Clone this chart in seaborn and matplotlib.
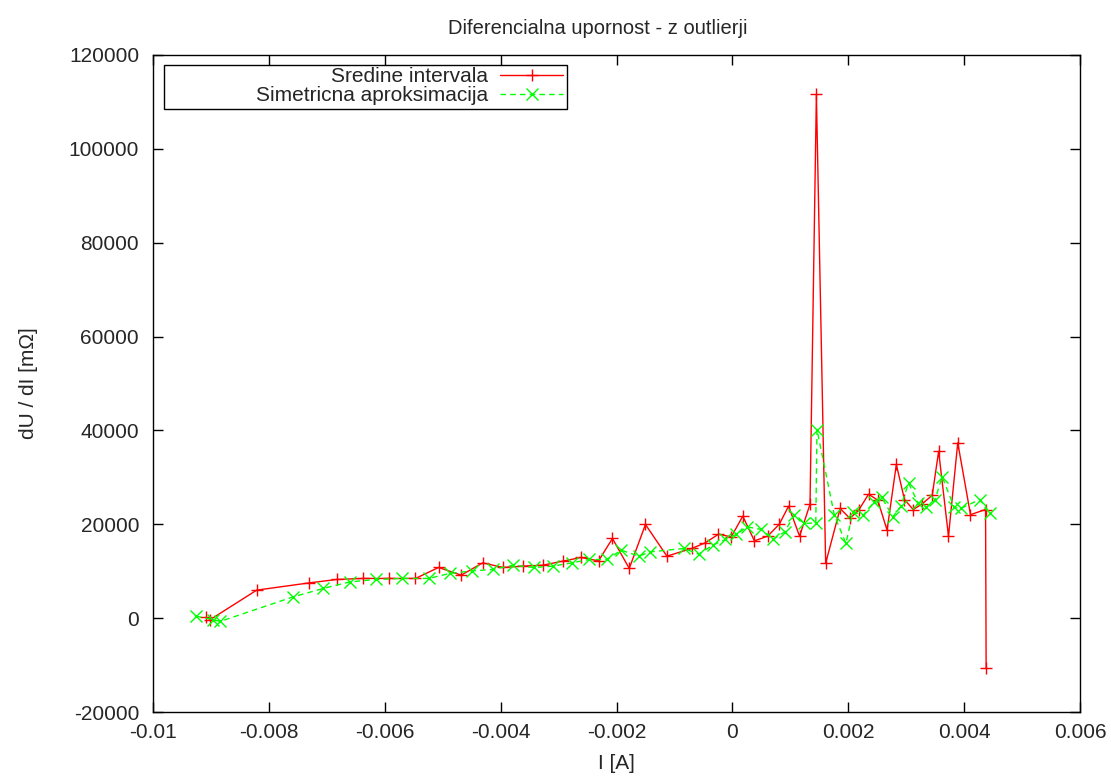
import numpy as np
import pandas as pd
import matplotlib
matplotlib.use("Agg")
import matplotlib.pyplot as plt
from matplotlib.patches import Rectangle
from matplotlib.ticker import FuncFormatter, MultipleLocator
import seaborn as sns

# Sredine intervala (red)
red_x = [-0.00908, -0.00901, -0.00821, -0.00730, -0.00683, -0.00638, -0.00593, -0.00547,
         -0.00507, -0.00468, -0.00431, -0.00396, -0.00362, -0.00327, -0.00293, -0.00261,
         -0.00231, -0.00207, -0.00178, -0.00150, -0.00113, -0.00070, -0.00047, -0.00024,
         -0.00002, 0.00018, 0.00038, 0.00061, 0.00081, 0.00097, 0.00116, 0.00134,
         0.00145, 0.00161, 0.00186, 0.00203, 0.00218, 0.00235, 0.00251, 0.00267,
         0.00283, 0.00297, 0.00312, 0.00327, 0.00345, 0.00356, 0.00373, 0.00389,
         0.00411, 0.00437, 0.00438]
red_y = [200, -300, 5970, 7520, 8240, 8460, 8460, 8460,
         10800, 9160, 11780, 10800, 11080, 11290, 12140, 12930,
         12200, 16980, 10590, 19960, 13210, 14850, 16040, 17890,
         17320, 21730, 16470, 17470, 20020, 23860, 17470, 24280,
         111600, 11700, 23370, 21240, 23000, 26410, 25130, 18740,
         32740, 25280, 23150, 24280, 26200, 35570, 17470, 37380,
         22050, 23150, -10650]

# Simetricna aproksimacija (green)
green_x = [-0.00926, -0.00897, -0.00884, -0.00758, -0.00706, -0.00660, -0.00615, -0.00570,
           -0.00524, -0.00488, -0.00449, -0.00414, -0.00378, -0.00343, -0.00310, -0.00277,
           -0.00247, -0.00216, -0.00192, -0.00161, -0.00142, -0.00083, -0.00058, -0.00034,
           -0.00012, 0.00006, 0.00026, 0.00050, 0.00070, 0.00090, 0.00107, 0.00124,
           0.00144, 0.00146, 0.00176, 0.00196, 0.00208, 0.00226, 0.00245, 0.00258,
           0.00277, 0.00291, 0.00304, 0.00321, 0.00335, 0.00350, 0.00362, 0.00383,
           0.00394, 0.00427, 0.00445]
green_y = [430, -300, -700, 4540, 6330, 7730, 8240, 8460,
           8460, 9520, 10070, 10370, 11290, 10800, 11080, 11780,
           12500, 12500, 14480, 13210, 14120, 14850, 13630, 15550,
           16760, 17830, 19450, 18890, 16760, 18380, 21940, 20170,
           20300, 40190, 21940, 15910, 22640, 21940, 24770, 25710,
           21580, 23860, 28760, 24430, 23640, 25280, 30140, 23580,
           23370, 25280, 22300]

red_df = pd.DataFrame({"I": red_x, "R": red_y})
green_df = pd.DataFrame({"I": green_x, "R": green_y})

sns.set_style("ticks")
plt.rcParams['font.family'] = ['Liberation Sans', 'DejaVu Sans']
fs = 15

fig = plt.figure(figsize=(11.11, 7.8), dpi=100)
ax = fig.add_axes([153 / 1111, 1 - 712 / 780, 927 / 1111, 657 / 780])

sns.lineplot(data=red_df, x="I", y="R", ax=ax, sort=False, estimator=None,
             color="#ff0000", linewidth=1, marker="+", markersize=9,
             markeredgewidth=1, markeredgecolor="#ff0000", label="Sredine intervala")
sns.lineplot(data=green_df, x="I", y="R", ax=ax, sort=False, estimator=None,
             color="#00ff00", linewidth=1, linestyle=(0, (4, 3)), marker="x", markersize=8,
             markeredgewidth=1, markeredgecolor="#00ff00", label="Simetricna aproksimacija")

ax.set_xlim(-0.01, 0.006)
ax.set_ylim(-20000, 120000)
ax.xaxis.set_major_locator(MultipleLocator(0.002))
ax.yaxis.set_major_locator(MultipleLocator(20000))
ax.xaxis.set_major_formatter(FuncFormatter(lambda v, p: "%g" % round(v, 6)))
ax.yaxis.set_major_formatter(FuncFormatter(lambda v, p: "%g" % round(v)))
ax.tick_params(direction="in", length=7, width=1, top=True, right=True,
               labelsize=fs, color="black")
ax.tick_params(axis="x", pad=8)
ax.tick_params(axis="y", pad=10)
for s in ax.spines.values():
    s.set_visible(True)
    s.set_linewidth(1)
    s.set_color("black")

ax.set_xlabel("I [A]", fontsize=fs)
ax.set_ylabel("dU / dI [mΩ]", fontsize=fs)
ax.xaxis.set_label_coords(0.5, -0.064)
ax.yaxis.set_label_coords(-0.124, 0.5)
ax.set_title("Diferencialna upornost - z outlierji", fontsize=14.5, pad=15, x=0.4795)

# legend in gnuplot style: right-aligned text, sample on the right, boxed
leg = ax.legend(loc="upper right", bbox_to_anchor=(0.4466, 0.9878), frameon=False,
                markerfirst=False, fontsize=15, handlelength=3.0, handletextpad=0.6,
                labelspacing=0.0, borderpad=0.2, borderaxespad=0)
leg.set_zorder(6)
ax.add_patch(Rectangle((0.0119, 0.9178), 0.4347, 0.067, transform=ax.transAxes,
                       facecolor="white", edgecolor="black", linewidth=1, zorder=5))

fig.savefig("out.png", dpi=100)
